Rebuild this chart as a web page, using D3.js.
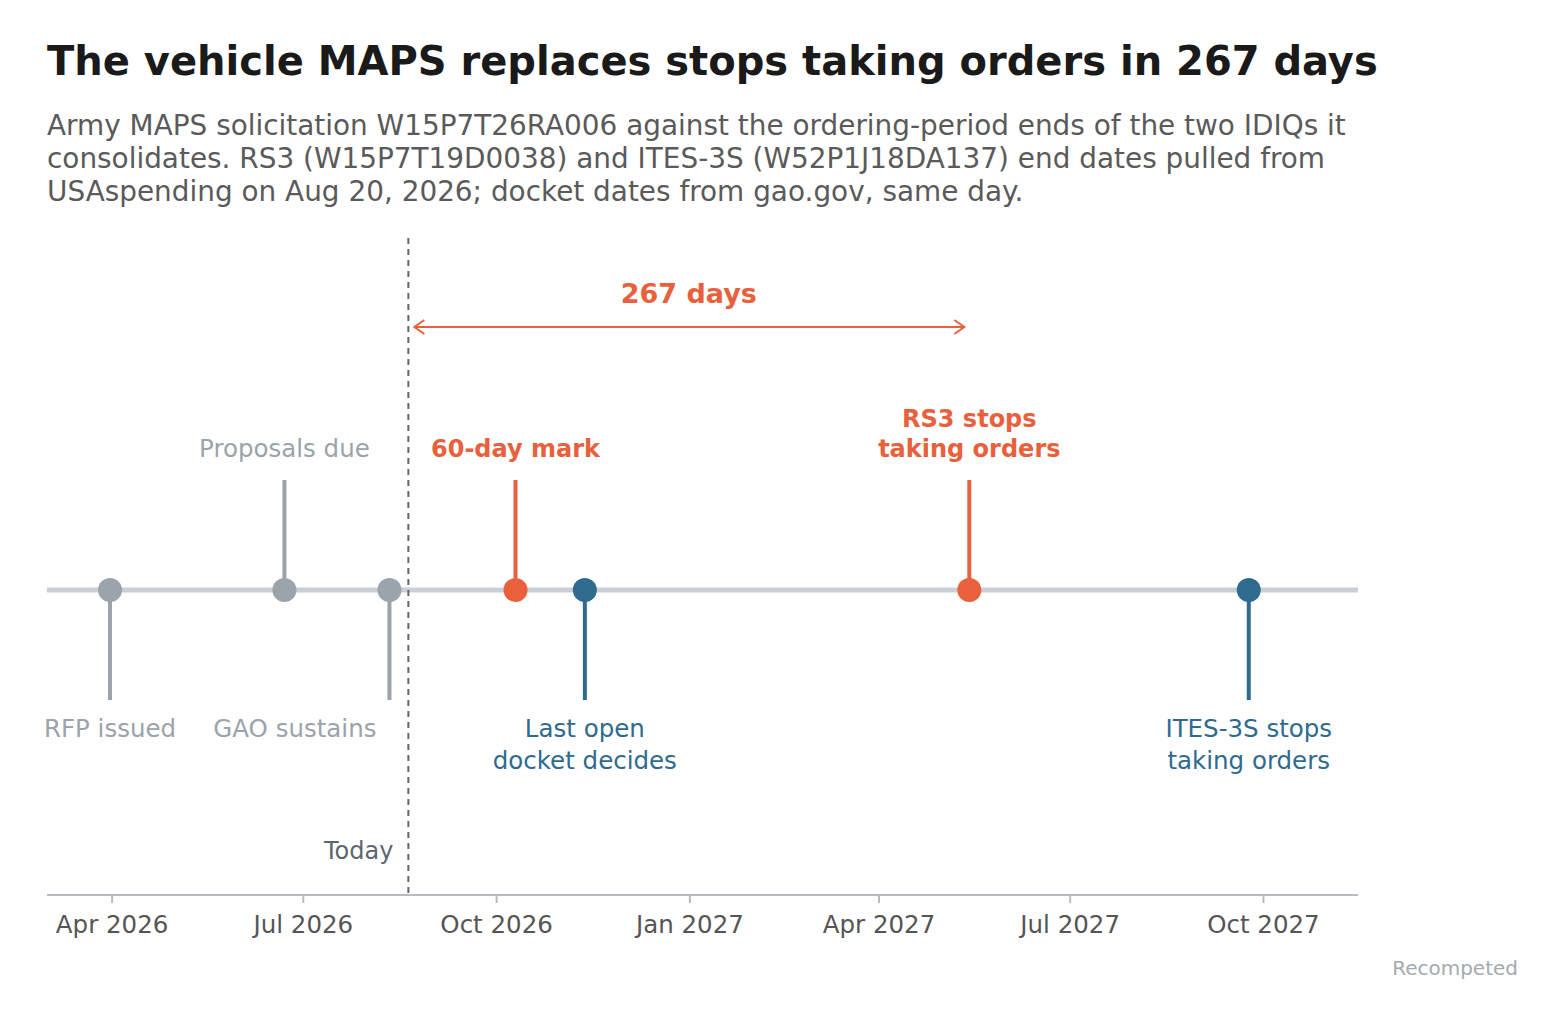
<!DOCTYPE html><html><head><meta charset="utf-8">
<script src="https://cdn.jsdelivr.net/npm/d3@7"></script>
<style>body{margin:0;background:#fff;font-family:"DejaVu Sans",sans-serif}</style></head><body>
<svg id="c" width="1563" height="1025"></svg>
<script>
const eventNames=["RFP issued","Proposals due","GAO sustains","60-day mark","Last open docket decides","RS3 stops taking orders","ITES-3S stops taking orders"];
const eventDates=["2026-03-31","2026-06-22","2026-08-11","2026-10-10","2026-11-12","2027-05-14","2027-09-24"];
const eventSide=["below","above","below","above","below","above","below"];
const eventKind=["past","past","past","key","blue","key","blue"];
const eventLines=[["RFP issued"],["Proposals due"],["GAO sustains"],["60-day mark"],["Last open","docket decides"],["RS3 stops","taking orders"],["ITES-3S stops","taking orders"]];
const todayDate="2026-08-20", countdownDays=267;
const tickDates=["2026-04-01","2026-07-01","2026-10-01","2027-01-01","2027-04-01","2027-07-01","2027-10-01"];
const tickLabels=["Apr 2026","Jul 2026","Oct 2026","Jan 2027","Apr 2027","Jul 2027","Oct 2027"];

const P=d3.timeParse("%Y-%m-%d");
const svg=d3.select("#c");
const col={past:"#9ba3ab",key:"#e8603c",blue:"#2e6b8e"};
const x=d3.scaleTime().domain([P("2026-03-01"),P("2027-11-15")]).range([47,1358]);
svg.append("text").attr("x",47).attr("y",75).attr("font-size",40).attr("font-weight","bold").attr("fill","#1a1a1a").text("The vehicle MAPS replaces stops taking orders in 267 days");
["Army MAPS solicitation W15P7T26RA006 against the ordering-period ends of the two IDIQs it","consolidates. RS3 (W15P7T19D0038) and ITES-3S (W52P1J18DA137) end dates pulled from","USAspending on Aug 20, 2026; docket dates from gao.gov, same day."].forEach((t,i)=>
svg.append("text").attr("x",47).attr("y",135+i*33).attr("font-size",27.9).attr("fill","#5a5a5a").text(t));
const axY=895, lineY=590;
svg.append("line").attr("x1",47).attr("x2",1358).attr("y1",axY).attr("y2",axY).attr("stroke","#b8bcc2").attr("stroke-width",2);
tickDates.forEach((d,i)=>{const px=x(P(d));
svg.append("line").attr("x1",px).attr("x2",px).attr("y1",axY).attr("y2",axY+8).attr("stroke","#b8bcc2").attr("stroke-width",2);
svg.append("text").attr("x",px).attr("y",933).attr("text-anchor","middle").attr("font-size",24.5).attr("fill","#555").text(tickLabels[i]);});
svg.append("line").attr("x1",47).attr("x2",1358).attr("y1",lineY).attr("y2",lineY).attr("stroke","#c9cfd4").attr("stroke-width",5);
const tx=x(P(todayDate));
svg.append("line").attr("x1",tx).attr("x2",tx).attr("y1",238).attr("y2",axY).attr("stroke","#666").attr("stroke-width",2).attr("stroke-dasharray","6,5");
svg.append("text").attr("x",tx-15).attr("y",859).attr("text-anchor","end").attr("font-size",24).attr("fill","#5d6670").text("Today");
const ex=x(d3.timeDay.offset(P(todayDate),countdownDays));
svg.append("line").attr("x1",tx+6).attr("x2",ex-5).attr("y1",327).attr("y2",327).attr("stroke",col.key).attr("stroke-width",2);
svg.append("path").attr("d",`M${tx+16},320L${tx+6},327L${tx+16},334`).attr("fill","none").attr("stroke",col.key).attr("stroke-width",2);
svg.append("path").attr("d",`M${ex-15},320L${ex-5},327L${ex-15},334`).attr("fill","none").attr("stroke",col.key).attr("stroke-width",2);
svg.append("text").attr("x",(tx+ex)/2).attr("y",303).attr("text-anchor","middle").attr("font-size",27).attr("font-weight","bold").attr("fill",col.key).text(countdownDays+" days");
eventDates.forEach((d,i)=>{const px=x(P(d)),c=col[eventKind[i]],up=eventSide[i]=="above",bold=eventKind[i]=="key";
svg.append("line").attr("x1",px).attr("x2",px).attr("y1",lineY).attr("y2",up?480:700).attr("stroke",c).attr("stroke-width",4);
svg.append("circle").attr("cx",px).attr("cy",lineY).attr("r",12).attr("fill",c);
const L=eventLines[i], shiftLeft=(eventNames[i]=="GAO sustains");
L.forEach((t,j)=>{const y=up?457-(L.length-1-j)*30:737+j*32;
svg.append("text").attr("x",shiftLeft?px-13:px).attr("y",y).attr("text-anchor",shiftLeft?"end":"middle").attr("font-size",bold?24:24.5).attr("font-weight",bold?"bold":"normal").attr("fill",c).text(t);});});
svg.append("text").attr("x",1518).attr("y",975).attr("text-anchor","end").attr("font-size",20).attr("fill","#a3abb1").text("Recompeted");
</script></body></html>
